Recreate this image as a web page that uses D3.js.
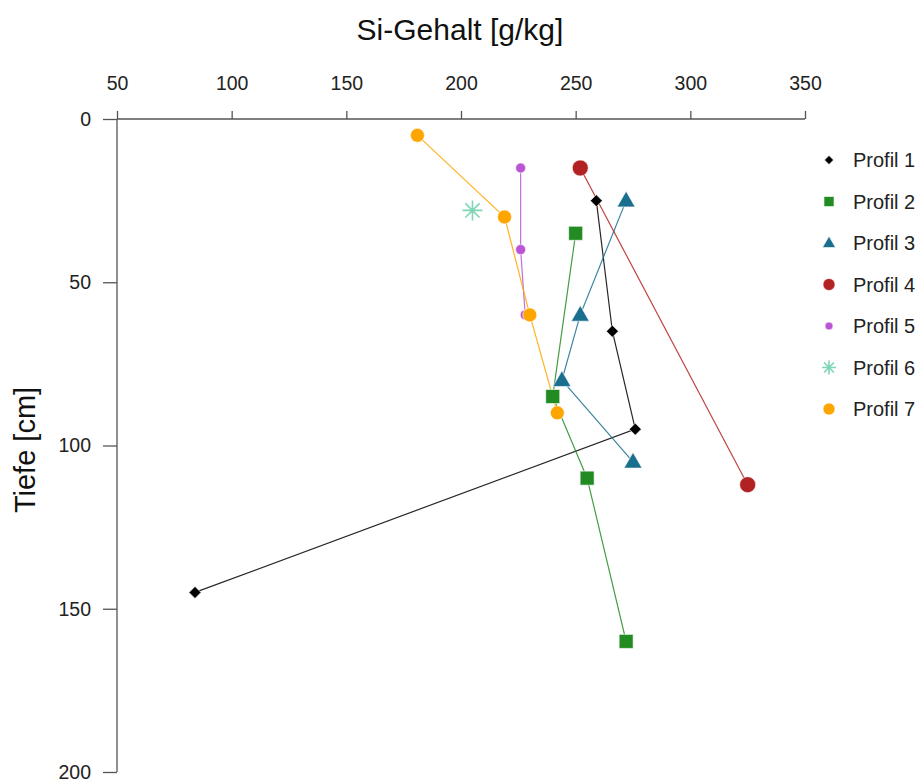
<!DOCTYPE html>
<html>
<head>
<meta charset="utf-8">
<script src="https://cdn.jsdelivr.net/npm/d3@7"></script>
<style>
  body { margin: 0; background: #fff; }
  svg { font-family: "Liberation Sans", Arial, sans-serif; }
</style>
</head>
<body>
<svg id="chart" width="921" height="782"></svg>
<script>
// Profile names and their data (Si content vs depth)
const profileNames = ['Profil 1', 'Profil 2', 'Profil 3', 'Profil 4', 'Profil 5', 'Profil 6', 'Profil 7'];
const siValues = [
    [259, 266, 276, 84],
    [250, 240, 255, 272],
    [272, 252, 244, 275],
    [252, 325],
    [226, 226, 228],
    [205],
    [181, 219, 230, 242]
];
const depthValues = [
    [25, 65, 95, 145],
    [35, 85, 110, 160],
    [25, 60, 80, 105],
    [15, 112],
    [15, 40, 60],
    [28],
    [5, 30, 60, 90]
];
const xTicks = [50, 100, 150, 200, 250, 300, 350];
const yTicks = [0, 50, 100, 150, 200];

const colors = ['#000000', '#228b22', '#1a6e8e', '#b22222', '#ba55d3', '#7fd4b4', '#ffa500'];
const shapes = ['diamond', 'square', 'triangle', 'circle', 'circle', 'star', 'circle'];
const plotSizes = [12, 14, 18, 16, 10, 20, 14];
const legendSizes = [9, 10, 13, 12, 8, 14, 12];

const svg = d3.select('#chart');
const margin = { left: 117, right: 805, top: 119, bottom: 772 };

const x = d3.scaleLinear().domain([50, 350]).range([margin.left, margin.right]);
const y = d3.scaleLinear().domain([0, 200]).range([margin.top, margin.bottom]);

// marker path for a given shape and size (size ~ width in px)
function marker(shape, s) {
    const h = s / 2;
    switch (shape) {
        case 'diamond':
            return `M0,${-h}L${h},0L0,${h}L${-h},0Z`;
        case 'square':
            return `M${-h},${-h}H${h}V${h}H${-h}Z`;
        case 'triangle': {
            const th = s * 0.87;
            return `M0,${-th * 0.6}L${h},${th * 0.4}L${-h},${th * 0.4}Z`;
        }
        case 'circle':
            return `M${h},0A${h},${h} 0 1,1 ${-h},0A${h},${h} 0 1,1 ${h},0Z`;
        case 'star': {
            let p = '';
            for (let k = 0; k < 4; k++) {
                const a = k * Math.PI / 4 + Math.PI / 2;
                p += `M${h * Math.cos(a)},${h * Math.sin(a)}L${-h * Math.cos(a)},${-h * Math.sin(a)}`;
            }
            return p;
        }
    }
}

function drawMarker(g, shape, color, s) {
    if (shape === 'star') {
        g.append('path').attr('d', marker(shape, s))
            .attr('stroke', color).attr('stroke-width', 1.6).attr('fill', 'none');
    } else {
        g.append('path').attr('d', marker(shape, s))
            .attr('fill', color).attr('stroke', '#fff').attr('stroke-width', 0.6);
    }
}

// Axes
const axisColor = '#555';
const xAxis = svg.append('g')
    .attr('transform', `translate(0,${margin.top})`)
    .call(d3.axisTop(x).tickValues(xTicks).tickSize(8).tickPadding(21));
const yAxis = svg.append('g')
    .attr('transform', `translate(${margin.left},0)`)
    .call(d3.axisLeft(y).tickValues(yTicks).tickSize(14).tickPadding(12));

[xAxis, yAxis].forEach(a => {
    a.select('.domain').attr('stroke', axisColor).attr('stroke-width', 1.3);
    a.selectAll('.tick line').attr('stroke', axisColor).attr('stroke-width', 1.3);
    a.selectAll('.tick text').attr('fill', '#222').style('font-size', '19.5px');
});
xAxis.selectAll('.tick text').attr('dy', '0');
xAxis.select('.domain').attr('d', `M${margin.left},0H${margin.right}`);
yAxis.select('.domain').attr('d', `M0,${margin.top}V${margin.bottom}`);

// Axis titles
svg.append('text')
    .attr('x', 460).attr('y', 40)
    .attr('text-anchor', 'middle')
    .style('font-size', '30px').attr('fill', '#111')
    .text('Si-Gehalt [g/kg]');

svg.append('text')
    .attr('transform', 'translate(35,450) rotate(-90)')
    .attr('text-anchor', 'middle')
    .style('font-size', '29px').attr('fill', '#111')
    .text('Tiefe [cm]');

// Lines and points
const line = d3.line().x(d => x(d[0])).y(d => y(d[1]));

profileNames.forEach((name, i) => {
    const pts = siValues[i].map((v, j) => [v, depthValues[i][j]]);
    if (pts.length > 1) {
        svg.append('path')
            .datum(pts)
            .attr('d', line)
            .attr('fill', 'none')
            .attr('stroke', colors[i])
            .attr('stroke-opacity', 0.85)
            .attr('stroke-width', 1.2);
    }
});

profileNames.forEach((name, i) => {
    siValues[i].forEach((v, j) => {
        const g = svg.append('g')
            .attr('transform', `translate(${x(v)},${y(depthValues[i][j])})`);
        drawMarker(g, shapes[i], colors[i], plotSizes[i]);
    });
});

// Legend
const legend = svg.append('g').attr('transform', 'translate(829,160)');
profileNames.forEach((name, i) => {
    const row = legend.append('g').attr('transform', `translate(0,${i * 41.5})`);
    drawMarker(row, shapes[i], colors[i], legendSizes[i]);
    row.append('text')
        .attr('x', 24).attr('y', 7)
        .style('font-size', '20px').attr('fill', '#222')
        .text(name);
});
</script>
</body>
</html>
